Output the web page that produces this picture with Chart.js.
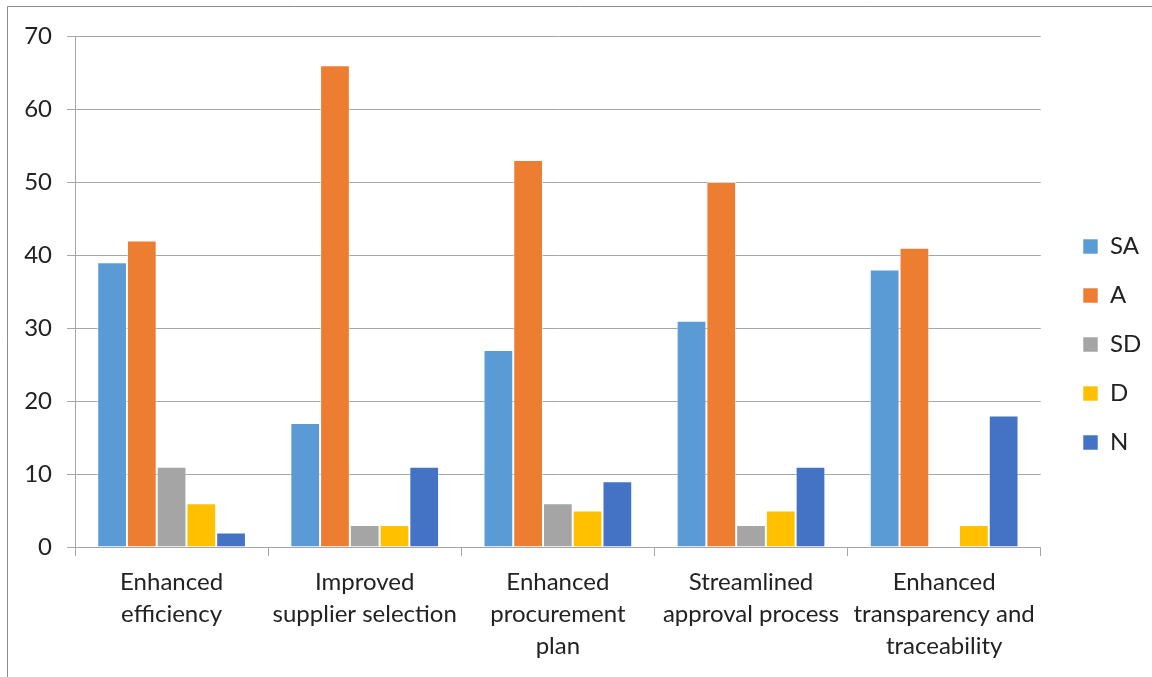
<!DOCTYPE html>
<html>
<head>
<meta charset="utf-8">
<script src="https://cdn.jsdelivr.net/npm/chart.js@4/dist/chart.umd.min.js"></script>
<style>
  html, body { margin: 0; padding: 0; background: #fff; }
  #wrap { position: relative; width: 1152px; height: 677px; }
</style>
</head>
<body>
<div id="wrap"><canvas id="c" width="1152" height="677"></canvas></div>
<script>
// Survey responses per benefit statement
const categories = [
  ['Enhanced', 'efficiency'],
  ['Improved', 'supplier selection'],
  ['Enhanced', 'procurement', 'plan'],
  ['Streamlined', 'approval process'],
  ['Enhanced', 'transparency and', 'traceability']
];
const seriesNames = ['SA', 'A', 'SD', 'D', 'N'];
const saValues = [39, 17, 27, 31, 38];
const aValues  = [42, 66, 53, 50, 41];
const sdValues = [11, 3, 6, 3, 0];
const dValues  = [6, 3, 5, 5, 3];
const nValues  = [2, 11, 9, 11, 18];
const yTicks = [0, 10, 20, 30, 40, 50, 60, 70];

const seriesColors = ['#5B9BD5', '#ED7D31', '#A5A5A5', '#FFC000', '#4472C4'];
const seriesValues = [saValues, aValues, sdValues, dValues, nValues];

const FONT = 'Lato, "Open Sans", sans-serif';
const TEXT = '#222222';
const GRID = '#a6a6a6';

// thin frame on the top and left edges of the chart
const frame = {
  id: 'frame',
  beforeDraw(chart) {
    const ctx = chart.ctx;
    ctx.save();
    ctx.strokeStyle = '#8c8c8c';
    ctx.lineWidth = 1;
    ctx.beginPath();
    ctx.moveTo(7.5, chart.height);
    ctx.lineTo(7.5, 6.5);
    ctx.lineTo(chart.width, 6.5);
    ctx.stroke();
    ctx.restore();
  }
};

// keep the legend column vertically centred on the whole chart
const legendPlacement = {
  id: 'legendPlacement',
  afterLayout(chart) {
    const lg = chart.legend;
    if (!lg) return;
    const w = lg.width;
    lg.left = 1083 - lg.options.labels.padding;
    lg.right = lg.left + w;
    lg.top = 0;
    lg.bottom = 689;
  }
};

new Chart(document.getElementById('c'), {
  type: 'bar',
  data: {
    labels: categories,
    datasets: seriesNames.map((name, i) => ({
      label: name,
      data: seriesValues[i],
      backgroundColor: seriesColors[i],
      borderColor: 'rgba(255,255,255,0.55)',
      borderWidth: 1,
      barPercentage: 1.0,
      categoryPercentage: 0.77
    }))
  },
  options: {
    responsive: false,
    animation: false,
    devicePixelRatio: 1,
    layout: { padding: { top: 36, left: 0, right: 18, bottom: 0 } },
    plugins: {
      tooltip: { enabled: false },
      legend: {
        position: 'right',
        align: 'center',
        labels: {
          boxWidth: 15,
          boxHeight: 15,
          padding: 25,
          color: TEXT,
          font: { family: FONT, size: 24 }
        }
      }
    },
    scales: {
      x: {
        afterFit(scale) { scale.height = 130; },
        grid: {
          offset: true,
          drawOnChartArea: false,
          drawTicks: true,
          tickLength: 9,
          color: GRID
        },
        border: { display: true, color: GRID, width: 1 },
        ticks: {
          color: TEXT,
          padding: 10,
          maxRotation: 0,
          autoSkip: false,
          font: { family: FONT, size: 24, lineHeight: 1.333 }
        }
      },
      y: {
        min: 0,
        max: 70,
        afterFit(scale) { scale.width = 75; },
        afterBuildTicks(scale) { scale.ticks = yTicks.map(v => ({ value: v })); },
        grid: {
          color: GRID,
          tickLength: 8,
          drawTicks: true
        },
        border: { display: true, color: GRID, width: 1 },
        ticks: {
          color: TEXT,
          padding: 15,
          font: { family: FONT, size: 24 }
        }
      }
    }
  },
  plugins: [frame, legendPlacement]
});
</script>
</body>
</html>
